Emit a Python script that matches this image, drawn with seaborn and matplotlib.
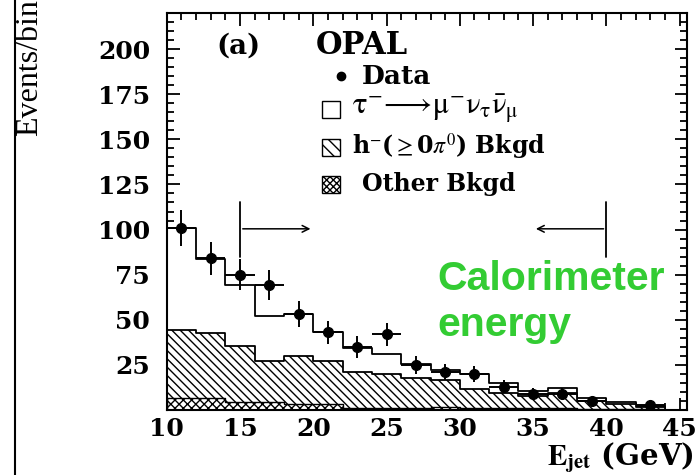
import numpy as np
import matplotlib
matplotlib.use("Agg")
import matplotlib.pyplot as plt
from matplotlib.patches import Rectangle
from matplotlib.lines import Line2D
from matplotlib.ticker import MultipleLocator
import seaborn as sns

# 2 GeV bins from 10 to 44 GeV
edges = [10, 12, 14, 16, 18, 20, 22, 24, 26, 28, 30, 32, 34, 36, 38, 40, 42, 44]
centers = [11, 13, 15, 17, 19, 21, 23, 25, 27, 29, 31, 33, 35, 37, 39, 41, 43]

data_counts = [101, 84, 75, 69, 53, 43, 35, 42, 25, 21, 20, 13, 9, 9, 5, np.nan, 3]
mc_total = [101, 83.5, 69, 52, 53, 43.5, 34.5, 31, 25.6, 22, 19.7, 15, 10.5, 12, 6.8, 4.6, 2.2]
h_bkgd = [44.6, 42.4, 35.4, 27.4, 30.2, 27.4, 21, 20, 17.5, 16.5, 11.5, 9.5, 8, 9.5, 5, 3.5, 1.5]
other_bkgd = [6.8, 6.8, 4.5, 4.5, 3.5, 3.5, 1, 1, 1, 1.5, 1, 1, 1, 1, 0.5, 0.5, 0.3]

x_ticks = [10, 15, 20, 25, 30, 35, 40, 45]
y_ticks = [25, 50, 75, 100, 125, 150, 175, 200]
cut_lo = 15
cut_hi = 40

sns.set_theme(style="ticks")
plt.rcParams["font.family"] = ["DejaVu Serif"]
plt.rcParams["mathtext.fontset"] = "stix"
plt.rcParams["hatch.linewidth"] = 1.0
plt.rcParams["text.color"] = "black"
plt.rcParams["xtick.labelcolor"] = "black"
plt.rcParams["ytick.labelcolor"] = "black"

W, H = 698, 475
fig = plt.figure(figsize=(W / 100, H / 100), dpi=100)
ax = fig.add_axes([166.7 / W, 1 - 410 / H, (687 - 166.7) / W, (410 - 13) / H])

common = dict(x=centers, bins=edges, element="step", fill=True, alpha=1, ax=ax)
sns.histplot(weights=mc_total, facecolor="white", edgecolor="black", linewidth=1.3, **common)
sns.histplot(weights=h_bkgd, facecolor="white", edgecolor="black", hatch="\\\\\\\\", linewidth=1.3, **common)
sns.histplot(weights=other_bkgd, facecolor="white", edgecolor="black", hatch="xxxx", linewidth=1.0, **common)

ax.errorbar(centers, data_counts, yerr=np.sqrt(data_counts), xerr=1, fmt="o",
            color="black", ms=7, elinewidth=1.4, capsize=0, zorder=5)

# selection cuts
ax.plot([cut_lo, cut_lo], [85, 115], color="black", lw=1.3)
ax.plot([cut_hi, cut_hi], [85, 115], color="black", lw=1.3)
ax.annotate("", xy=(cut_lo + 5, 100.4), xytext=(cut_lo, 100.4),
            arrowprops=dict(arrowstyle="->", color="black", lw=1.1))
ax.annotate("", xy=(cut_hi - 5, 100.4), xytext=(cut_hi, 100.4),
            arrowprops=dict(arrowstyle="->", color="black", lw=1.1))

ax.set_xlim(10, 45.5)
ax.set_ylim(0, 220)
ax.set_xticks(x_ticks)
ax.set_yticks(y_ticks)
ax.xaxis.set_minor_locator(MultipleLocator(1))
ax.yaxis.set_minor_locator(MultipleLocator(5))
ax.tick_params(which="both", direction="in", top=True, right=True, width=1.3, color="black")
ax.tick_params(which="major", length=9, labelsize=18)
ax.tick_params(axis="y", which="major", pad=12)
ax.tick_params(axis="x", which="major", pad=5)
ax.tick_params(which="minor", length=5)
for lab in ax.get_xticklabels() + ax.get_yticklabels():
    lab.set_fontweight("bold")
    lab.set_color("black")
ax.set_xlabel("")
ax.set_ylabel("")
for sp in ax.spines.values():
    sp.set_linewidth(1.5)
    sp.set_color("black")

# labels
fig.text(30 / W, 1 - 136 / H, "Events/bin", rotation=90, ha="center", va="bottom", fontsize=23,
         family="Liberation Serif")
fig.text(694 / W, 1 - 465 / H, r"$\mathbf{E}_{\mathbf{jet}}$ (GeV)", ha="right", va="baseline",
         fontsize=21, fontweight="bold")

fig.text(216 / W, 1 - 46 / H, "(a)", ha="left", va="center", fontsize=20, fontweight="bold")
fig.text(316 / W, 1 - 46 / H, "OPAL", ha="left", va="center", fontsize=22, fontweight="bold")

# legend
fig.add_artist(Line2D([341 / W], [1 - 76 / H], marker="o", color="black", ms=6,
                      transform=fig.transFigure))
fig.text(362 / W, 1 - 76 / H, "Data", ha="left", va="center", fontsize=19, fontweight="bold")
rows = [(109, None, r"$\mathrm{\tau}^{-}\!\longrightarrow\!\mathrm{\mu}^{-}\mathrm{\nu}_{\mathrm{\tau}}\bar{\mathrm{\nu}}_{\mathrm{\mu}}$",
         "normal", 352, 22),
        (147, "\\\\\\", r"h$^{-}$($\geq$0$\pi^{0}$) Bkgd", "bold", 352, 17),
        (184, "xxxxx", "Other Bkgd", "bold", 362, 17)]
for yc, hatch, label, weight, xt, fs in rows:
    fig.add_artist(Rectangle((322 / W, 1 - (yc + 9) / H), 18 / W, 17 / H, transform=fig.transFigure,
                             facecolor="white", edgecolor="black", lw=1.0, hatch=hatch))
    fig.text(xt / W, 1 - yc / H, label, ha="left", va="center", fontsize=fs, fontweight=weight)

fig.text(437 / W, 1 - 290 / H, "Calorimeter", ha="left", va="baseline", fontsize=29.5,
         fontweight="bold", family="Liberation Sans", color="#33cc33")
fig.text(437 / W, 1 - 336 / H, "energy", ha="left", va="baseline", fontsize=29.5,
         fontweight="bold", family="Liberation Sans", color="#33cc33")

fig.add_artist(Line2D([15 / W, 15 / W], [0, 1], transform=fig.transFigure, color="black", lw=1.5))

fig.savefig("out.png", dpi=100)
